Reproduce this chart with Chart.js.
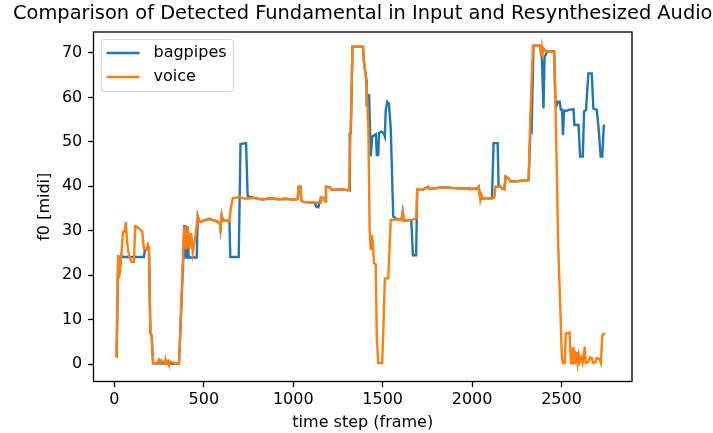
<!DOCTYPE html>
<html>
<head>
<meta charset="utf-8">
<script src="https://cdn.jsdelivr.net/npm/chart.js@4.4.0/dist/chart.umd.min.js"></script>
<style>
  html, body { margin: 0; padding: 0; background: #fff; }
  canvas { display: block; }
</style>
</head>
<body>
<canvas id="chart" width="713" height="433"></canvas>
<script>
const titleText = "Comparison of Detected Fundamental in Input and Resynthesized Audio";
const seriesNames = ["bagpipes", "voice"];
const seriesColors = ["#1f77b4", "#ff7f0e"];
const xTicks = [0, 500, 1000, 1500, 2000, 2500];
const yTicks = [0, 10, 20, 30, 40, 50, 60, 70];

// values (frame, midi)
const bagpipesFrames = [12, 21, 30, 39, 48, 165, 170, 178, 187, 193, 201, 208, 216, 361, 368, 385, 390, 395, 399, 405, 410, 415, 460, 466, 475, 494, 531, 560, 578, 590, 593, 600, 606, 643, 648, 695, 705, 736, 745, 780, 830, 870, 920, 960, 1000, 1025, 1030, 1040, 1045, 1054, 1120, 1130, 1140, 1148, 1155, 1172, 1178, 1183, 1205, 1215, 1260, 1312, 1316, 1322, 1331, 1390, 1396, 1409, 1411, 1418, 1424, 1433, 1442, 1452, 1462, 1467, 1475, 1480, 1493, 1505, 1512, 1517, 1526, 1535, 1545, 1559, 1580, 1605, 1612, 1620, 1660, 1669, 1687, 1693, 1721, 1755, 1760, 1843, 1900, 1972, 2028, 2037, 2046, 2060, 2111, 2120, 2143, 2148, 2160, 2167, 2180, 2188, 2204, 2215, 2260, 2316, 2327, 2333, 2343, 2380, 2390, 2399, 2405, 2420, 2459, 2465, 2470, 2480, 2490, 2496, 2503, 2508, 2514, 2530, 2539, 2567, 2572, 2595, 2604, 2619, 2626, 2637, 2650, 2669, 2678, 2697, 2706, 2719, 2728, 2736, 2743];
const bagpipesF0 = [1.5, 24.5, 21.3, 24.5, 24.1, 24.1, 25.8, 25.8, 26.8, 26.0, 7.0, 6.5, 0.2, 0.1, 6.9, 24.0, 31.0, 31.0, 24.0, 24.0, 31.0, 24.0, 24.0, 33.2, 32.0, 32.2, 32.7, 32.3, 32.0, 31.5, 30.4, 33.4, 32.3, 32.2, 24.1, 24.1, 49.5, 49.7, 37.7, 37.4, 37.0, 37.3, 37.1, 37.2, 37.0, 37.1, 39.9, 39.9, 36.8, 36.5, 36.3, 35.4, 35.3, 36.4, 37.5, 37.3, 36.6, 39.9, 39.8, 39.2, 39.3, 39.1, 51.9, 52.0, 71.4, 71.4, 67.7, 63.9, 57.9, 60.5, 60.5, 46.7, 51.2, 51.5, 51.7, 47.0, 47.0, 52.0, 52.3, 52.0, 51.2, 57.2, 59.0, 58.5, 53.0, 33.2, 32.6, 32.4, 34.3, 32.3, 32.4, 24.5, 24.5, 39.3, 39.2, 39.9, 39.4, 39.8, 39.6, 39.5, 39.4, 39.8, 37.2, 37.3, 37.3, 49.7, 49.7, 39.9, 39.9, 39.5, 39.3, 42.2, 41.8, 41.1, 41.2, 41.4, 53.8, 53.0, 71.6, 71.6, 69.0, 57.5, 69.0, 70.3, 70.3, 60.0, 57.9, 59.0, 59.0, 57.2, 57.2, 51.5, 57.0, 57.0, 57.2, 57.3, 53.8, 53.8, 46.7, 46.7, 56.8, 57.2, 65.4, 65.4, 57.5, 57.2, 53.6, 46.7, 46.7, 53.6, 53.8];

const voiceFrames = [12, 21, 30, 39, 48, 57, 64, 68, 72, 81, 94, 109, 116, 122, 141, 156, 165, 178, 187, 193, 201, 208, 216, 240, 248, 255, 262, 280, 285, 290, 300, 305, 310, 340, 361, 368, 387, 392, 401, 410, 420, 429, 438, 453, 466, 475, 494, 531, 560, 578, 590, 593, 600, 606, 643, 652, 662, 700, 730, 780, 830, 870, 920, 960, 1000, 1025, 1030, 1040, 1045, 1054, 1129, 1150, 1155, 1172, 1178, 1183, 1205, 1215, 1260, 1312, 1325, 1331, 1390, 1396, 1409, 1420, 1427, 1433, 1440, 1446, 1452, 1461, 1467, 1475, 1497, 1503, 1512, 1531, 1545, 1580, 1605, 1612, 1620, 1660, 1688, 1693, 1721, 1755, 1760, 1843, 1900, 1972, 1990, 2028, 2037, 2046, 2053, 2060, 2111, 2125, 2130, 2160, 2167, 2180, 2188, 2204, 2215, 2260, 2316, 2325, 2340, 2380, 2385, 2390, 2395, 2400, 2410, 2420, 2459, 2465, 2474, 2480, 2502, 2508, 2518, 2524, 2545, 2553, 2558, 2563, 2567, 2571, 2575, 2580, 2585, 2590, 2596, 2602, 2610, 2618, 2630, 2635, 2650, 2660, 2670, 2675, 2690, 2695, 2712, 2720, 2728, 2743];
const voiceF0 = [1.5, 24.5, 21.3, 24.5, 29.8, 29.8, 32.0, 29.0, 27.0, 24.5, 23.0, 23.0, 31.0, 31.0, 30.4, 29.7, 26.0, 25.8, 26.8, 26.0, 7.0, 6.5, 0.2, 0.3, 1.0, 0.3, 0.9, 0.2, 1.1, 0.3, 0.8, 0.2, 0.6, 0.2, 0.1, 6.9, 28.0, 31.0, 25.8, 31.0, 26.0, 29.5, 25.0, 28.8, 33.2, 32.0, 32.2, 32.7, 32.3, 32.0, 31.5, 30.4, 33.4, 32.3, 32.2, 35.4, 37.3, 37.6, 37.2, 37.4, 37.0, 37.3, 37.1, 37.2, 37.0, 37.1, 39.9, 39.9, 36.8, 36.5, 36.3, 36.4, 37.5, 37.3, 36.6, 39.9, 39.8, 39.2, 39.3, 39.1, 60.0, 71.4, 71.4, 67.7, 63.9, 52.7, 30.2, 25.7, 29.0, 26.3, 22.7, 22.5, 6.1, 0.3, 0.2, 6.9, 19.3, 19.3, 32.4, 32.6, 32.4, 34.3, 32.3, 32.4, 32.8, 39.3, 39.2, 39.9, 39.4, 39.8, 39.6, 39.5, 39.3, 39.6, 40.0, 36.9, 38.0, 37.3, 37.3, 37.5, 39.9, 39.9, 39.5, 39.3, 42.2, 41.8, 41.1, 41.2, 41.4, 55.0, 71.6, 71.6, 69.4, 71.3, 69.8, 71.0, 70.5, 70.3, 70.3, 60.2, 42.9, 28.7, 1.6, 0.2, 0.3, 6.9, 7.1, 0.2, 3.5, 0.3, 3.9, 0.2, 3.0, 0.4, 2.7, 0.3, 2.0, 0.5, 1.5, 0.3, 3.9, 0.3, 0.5, 1.5, 1.3, 0.3, 0.4, 1.3, 1.2, 0.3, 6.5, 7.0];

const fontFamily = '"DejaVu Sans", sans-serif';

function toPoints(frames, values) {
  return frames.map((f, i) => ({ x: f, y: values[i] }));
}

// box round the axes, the title and the legend, drawn the matplotlib way
const framePlugin = {
  id: "frame",
  afterDraw(chart) {
    const c = chart.ctx;
    const a = chart.chartArea;
    c.save();
    c.strokeStyle = "#000";
    c.lineWidth = 1.3;
    c.strokeRect(a.left, a.top, a.right - a.left, a.bottom - a.top);

    c.fillStyle = "#000";
    c.font = "19.4px " + fontFamily;
    c.textAlign = "center";
    c.textBaseline = "middle";
    c.fillText(titleText, (a.left + a.right) / 2, 14);

    // legend
    const lx = a.left + 8, ly = a.top + 7.5, lw = 132, lh = 52, r = 3;
    c.beginPath();
    c.roundRect(lx, ly, lw, lh, r);
    c.fillStyle = "rgba(255,255,255,0.8)";
    c.fill();
    c.strokeStyle = "rgba(204,204,204,0.8)";
    c.lineWidth = 1;
    c.stroke();
    c.font = "16px " + fontFamily;
    c.textAlign = "left";
    chart.data.datasets.forEach((ds, i) => {
      const y = ly + 13.5 + i * 24;
      c.strokeStyle = ds.borderColor;
      c.lineWidth = 2.4;
      c.beginPath();
      c.moveTo(lx + 5, y);
      c.lineTo(lx + 38, y);
      c.stroke();
      c.fillStyle = "#000";
      c.fillText(ds.label, lx + 52, y);
    });
    c.restore();
  }
};

const ctx = document.getElementById("chart");

let mainChart = new Chart(ctx, {
  type: "line",
  data: {
    datasets: [
      {
        label: seriesNames[0],
        data: toPoints(bagpipesFrames, bagpipesF0),
        borderColor: seriesColors[0],
        order: 1
      },
      {
        label: seriesNames[1],
        data: toPoints(voiceFrames, voiceF0),
        borderColor: seriesColors[1],
        order: 0
      }
    ]
  },
  options: {
    responsive: false,
    animation: false,
    devicePixelRatio: 1,
    layout: { padding: { top: 32, right: 81, bottom: 0, left: 0 } },
    elements: {
      point: { radius: 0 },
      line: { borderWidth: 2.4, tension: 0, fill: false }
    },
    plugins: {
      legend: { display: false },
      title: { display: false },
      tooltip: { enabled: false }
    },
    scales: {
      x: {
        type: "linear",
        min: -117,
        max: 2894,
        afterBuildTicks: s => { s.ticks = xTicks.map(v => ({ value: v })); },
        afterFit: s => { s.height = 51.5; },
        border: { display: false },
        grid: { drawOnChartArea: false, drawTicks: true, tickLength: 5.6, tickColor: "#000", tickWidth: 1.3 },
        ticks: {
          color: "#000",
          font: { family: fontFamily, size: 16 },
          padding: 3,
          maxRotation: 0,
          autoSkip: false,
          callback: v => String(v)
        },
        title: {
          display: true,
          text: "time step (frame)",
          color: "#000",
          font: { family: fontFamily, size: 16 },
          padding: { top: 0, bottom: 0.5 }
        }
      },
      y: {
        type: "linear",
        min: -3.9,
        max: 74.7,
        afterBuildTicks: s => { s.ticks = yTicks.map(v => ({ value: v })); },
        afterFit: s => { s.width = 93.5; },
        border: { display: false },
        grid: { drawOnChartArea: false, drawTicks: true, tickLength: 5.6, tickColor: "#000", tickWidth: 1.3 },
        ticks: {
          color: "#000",
          font: { family: fontFamily, size: 16 },
          padding: 5.6,
          callback: v => String(v)
        },
        title: {
          display: true,
          text: "f0 [midi]",
          color: "#000",
          font: { family: fontFamily, size: 16 },
          padding: { top: 35.4, bottom: 0 }
        }
      }
    }
  },
  plugins: [framePlugin]
});
</script>
</body>
</html>
